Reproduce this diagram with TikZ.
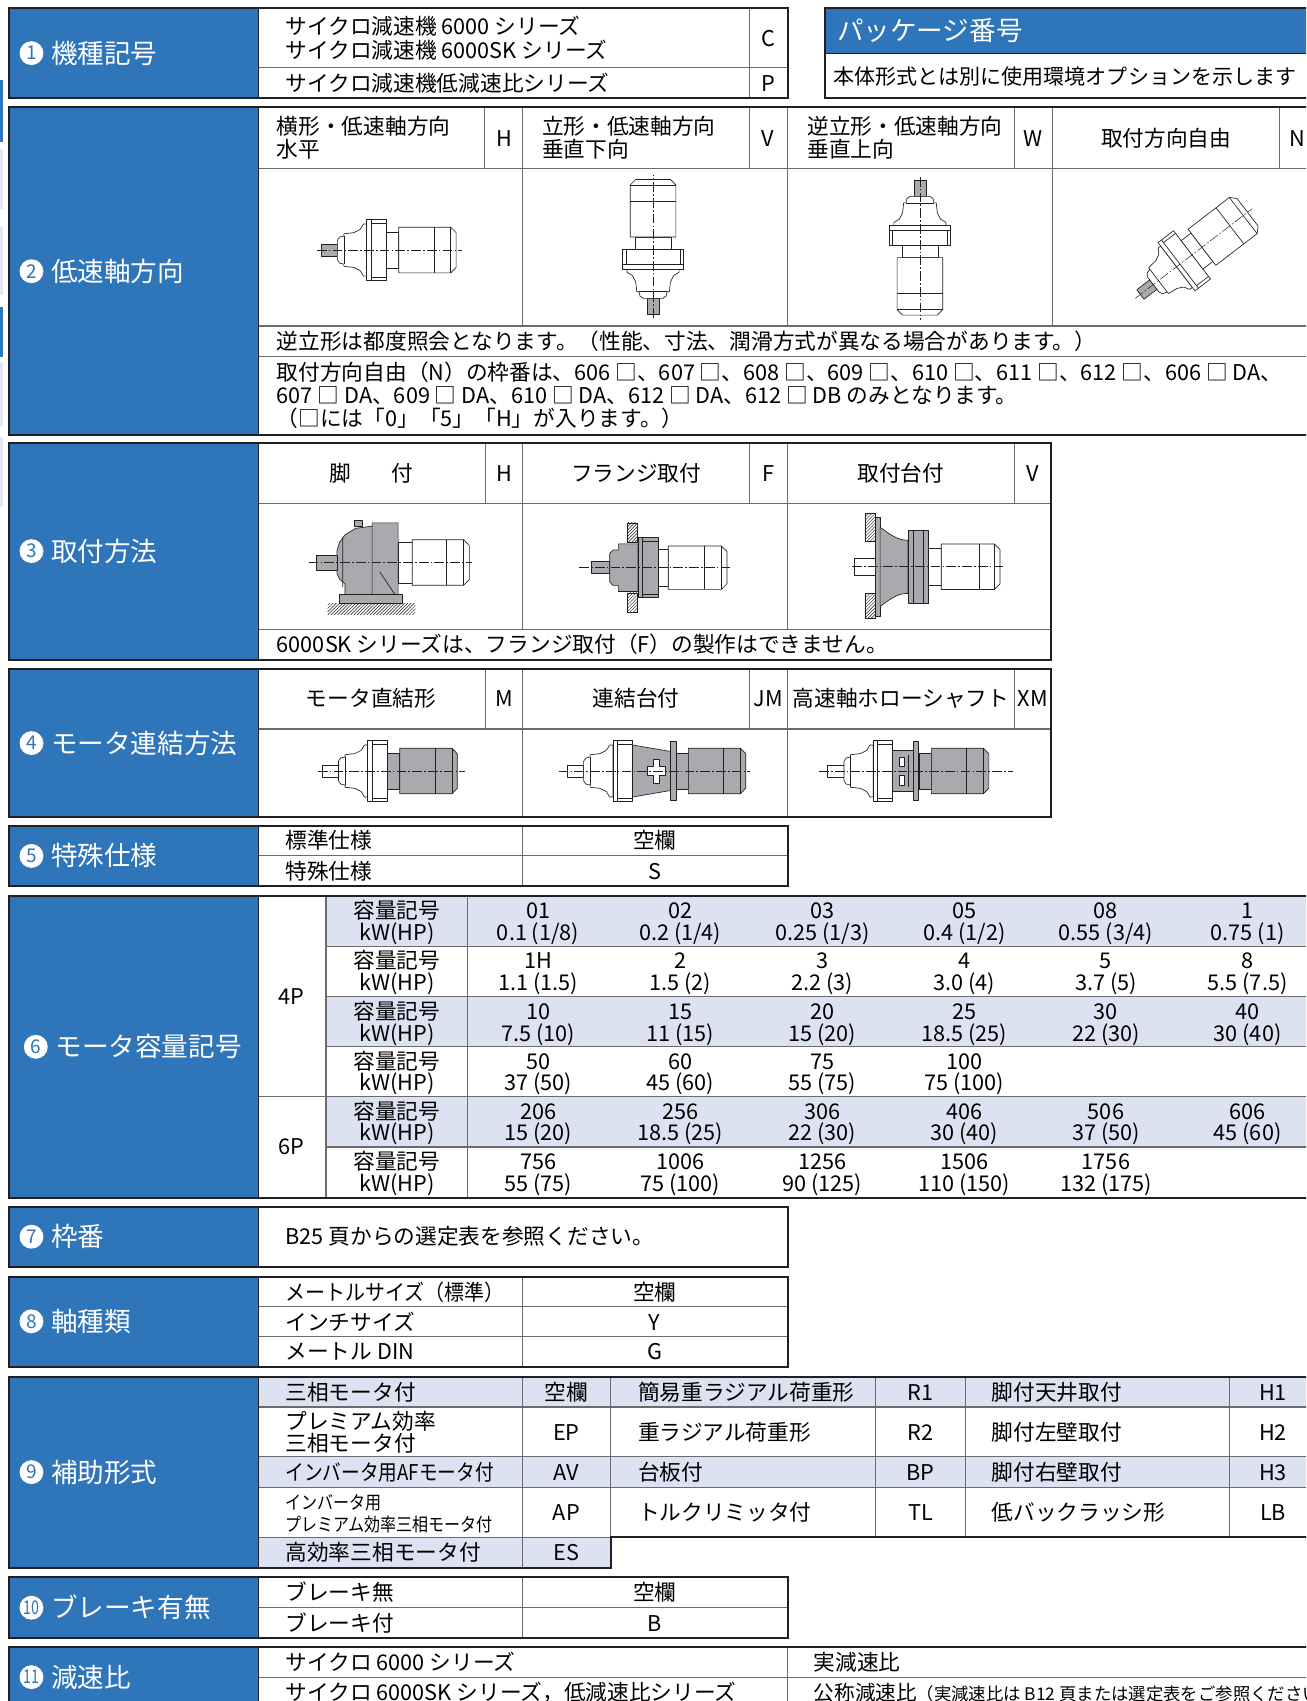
\documentclass[tikz,border=0pt]{standalone}
\usepackage{fontspec}
\setmainfont{Noto Sans CJK JP}
\usetikzlibrary{patterns}
\definecolor{hdrblue}{RGB}{46,117,185}
\definecolor{rowshade}{RGB}{221,226,242}
\definecolor{pgrey}{RGB}{168,170,173}
\definecolor{edgelight}{RGB}{226,231,243}
\definecolor{lnk}{RGB}{35,31,32}
\newcommand\bodyfs{\fontsize{20}{22}\selectfont}
\newcommand\hdrfs{\fontsize{24.5}{26}\selectfont}
\newcommand\cnfs{\fontsize{17.5}{17.5}\selectfont}
\newcommand\vcell[4]{\node[tx] at (#1,#2-10) {#3}; \node[tx] at (#1,#2+10) {#4};}
\newcommand\redpart[2]{%
  \draw[part,fill=#2] (-64,-5.5) rectangle (-49,5.5);
  \draw[part,fill=#1] (-49,-9) -- (-47,-12) -- (-43,-13) -- (-43,-15) -- (-34,-16) -- (-28,-19) -- (-25,-24) -- (-22,-24) -- (-22,24) -- (-25,24) -- (-28,19) -- (-34,16) -- (-43,15) -- (-43,13) -- (-47,12) -- (-49,9) -- cycle;
  \draw[part] (-43,-13) -- (-43,13);
  \draw[part,fill=#1] (-22,-28) rectangle (-4,28);
  \draw[part] (-18,-28) -- (-18,28) (-18,-25) -- (-4,-25) (-18,25) -- (-4,25);
}
\newcommand\motpart[2]{%
  \draw[part,fill=#1] (-4,-16.5) rectangle (7.5,16.5);
  \draw[part,fill=#2] (7.5,-21) -- (55.5,-21) -- (60.5,-16) -- (60.5,16) -- (55.5,21) -- (7.5,21) -- cycle;
  \draw[part] (40,-21) -- (40,21) (55.5,-21) -- (55.5,21);
}
\begin{document}
\begin{tikzpicture}[x=1pt,y=-1pt,
  outer/.style={draw=lnk, line width=1.8pt},
  inner/.style={draw=black!58, line width=1pt},
  part/.style={draw=lnk, line width=0.6pt, line join=round},
  cl/.style={draw=lnk, line width=0.45pt, dash pattern=on 9pt off 2pt on 1.5pt off 2pt},
  tx/.style={inner sep=0pt, font=\bodyfs, text height=17.6pt, text depth=2.4pt},
  txl/.style={tx, anchor=west},
  hd/.style={inner sep=0pt, font=\hdrfs, text=white, anchor=west, text height=21.5pt, text depth=3pt},
  cnum/.style={circle, fill=white, inner sep=0pt, minimum size=22pt, text=hdrblue, font=\cnfs},
  hatch/.style={draw=lnk, line width=0.6pt, pattern=north east lines, pattern color=lnk},
]
\useasboundingbox (0,0) rectangle (1204,1568);
\clip (0,0) rectangle (1204,1568);
\fill[white] (0,0) rectangle (1204,1568);
% left edge strips
\fill[hdrblue] (0,74) rectangle (3,131);
\fill[edgelight] (0,137) rectangle (3,193);
\fill[edgelight] (0,209) rectangle (3,272);
\fill[hdrblue] (0,283) rectangle (3,329);
\fill[edgelight] (0,334) rectangle (3,393);
\fill[edgelight] (0,403) rectangle (3,467);

% ===== Section 1
\fill[hdrblue] (8.5,7) rectangle (238,90.5);
\draw[inner] (238,62.5) -- (726,62.5) (691,7) -- (691,90.5);
\draw[inner,draw=lnk] (238,7) -- (238,90.5);
\draw[outer] (8.5,7) rectangle (726,90.5);
\node[cnum] (n1) at (29,49) {1};
\node[hd] (h1) at (47,49) {機種記号};
\node[txl] at (263,24) {サイクロ減速機 6000 シリーズ};
\node[txl] at (263,46) {サイクロ減速機 6000SK シリーズ};
\node[tx] at (708.5,35) {C};
\node[txl] at (263,76.5) {サイクロ減速機低減速比シリーズ};
\node[tx] at (708.5,76.5) {P};

% ===== Package
\fill[hdrblue] (760.5,7.5) rectangle (1215,49);
\draw[inner,draw=lnk] (760.5,49) -- (1215,49);
\draw[outer] (760.5,7.5) rectangle (1215,90.5);
\node[hd] (pk) at (771.5,28) {パッケージ番号};
\node[txl,font=\fontsize{19.4}{21}\selectfont] at (768,70) {本体形式とは別に使用環境オプションを示します};

% ===== Section 2
\fill[hdrblue] (8.5,99) rectangle (238,401);
\draw[inner] (238,155) -- (1215,155) (238,300.5) -- (1215,300.5) (238,329) -- (1215,329);
\draw[inner] (447,99) -- (447,155) (482,99) -- (482,300.5) (690.5,99) -- (690.5,155) (726,99) -- (726,300.5)
  (935,99) -- (935,155) (970,99) -- (970,300.5) (1179.5,99) -- (1179.5,155);
\draw[inner,draw=lnk] (238,99) -- (238,401);
\draw[outer] (8.5,99) rectangle (1215,401);
\node[cnum] (n2) at (29,250) {2};
\node[hd] (h2) at (47,250) {低速軸方向};
\node[txl] at (255,116.5) {横形・低速軸方向};
\node[txl] at (255,138) {水平};
\node[tx] at (464.5,127) {H};
\node[txl] at (499.5,116.5) {立形・低速軸方向};
\node[txl] at (499.5,138) {垂直下向};
\node[tx] at (708,127) {V};
\node[txl] at (744,116.5) {逆立形・低速軸方向};
\node[txl] at (744,138) {垂直上向};
\node[tx] at (952.5,127) {W};
\node[tx] at (1075,127) {取付方向自由};
\node[tx] at (1196,127) {N};
\node[txl] at (255,315) {逆立形は都度照会となります。（性能、寸法、潤滑方式が異なる場合があります。）};
\node[txl] at (255,343.5) {取付方向自由（N）の枠番は、606 □、607 □、608 □、609 □、610 □、611 □、612 □、606 □ DA、};
\node[txl] at (255,364.5) {607 □ DA、609 □ DA、610 □ DA、612 □ DA、612 □ DB のみとなります。};
\node[txl] at (255,386) {（□には「0」「5」「H」が入ります。）};
% drawings
\begin{scope}[shift={(360,230.5)}]
  \redpart{white}{pgrey}\motpart{white}{white}
  \draw[cl] (-68,0) -- (66,0);
\end{scope}
\begin{scope}[shift={(602,226)},rotate=90]
  \redpart{white}{pgrey}\motpart{white}{white}
  \draw[cl] (-67,0) -- (65,0);
\end{scope}
\begin{scope}[shift={(848,230)},rotate=-90]
  \redpart{white}{pgrey}\motpart{white}{white}
  \draw[cl] (-67,0) -- (65,0);
\end{scope}
\begin{scope}[shift={(1102,232.5)},rotate=37.5]
  \redpart{white}{pgrey}\motpart{white}{white}
  \draw[cl] (-70,0) -- (66,0);
\end{scope}

% ===== Section 3
\fill[hdrblue] (8.5,408.5) rectangle (238,608);
\draw[inner] (238,464) -- (969,464) (238,580) -- (969,580);
\draw[inner] (447.5,408.5) -- (447.5,464) (482,408.5) -- (482,580) (691,408.5) -- (691,464) (726,408.5) -- (726,580) (935,408.5) -- (935,464);
\draw[inner,draw=lnk] (238,408.5) -- (238,608);
\draw[outer] (8.5,408.5) rectangle (969,608);
\node[cnum] (n3) at (29,508) {3};
\node[hd] (h3) at (47,508) {取付方法};
\node[tx] at (342,436) {脚\hspace{37pt}付};
\node[tx] at (465,436) {H};
\node[tx] at (586.5,436) {フランジ取付};
\node[tx] at (708.5,436) {F};
\node[tx] at (830.5,436) {取付台付};
\node[tx] at (952,436) {V};
\node[txl] at (255,594) {6000SK シリーズは、フランジ取付（F）の製作はできません。};
% foot mounted
\fill[pattern=north east lines, pattern color=lnk] (302,556) rectangle (383,566);
\draw[part,fill=pgrey] (313,548) rectangle (371,556);
\draw[part,fill=pgrey] (310.5,508) -- (313,500) -- (318,493) -- (328,487) -- (343,485) -- (343,482) -- (367,482) -- (367,548) -- (318,548) -- (318,538) -- (313,534) -- (310.5,528) -- cycle;
\draw[part] (343,485) -- (343,548) (316,495) -- (316,541) (350,527) -- (364,548);
\draw[part,fill=pgrey] (327,480) rectangle (334,485);
\draw[part,fill=pgrey] (291.6,512) rectangle (310.5,525.4);
\draw[part,fill=white] (367,499.5) rectangle (380,537.5);
\draw[part,fill=white] (380,497.5) -- (427.5,497.5) -- (432.7,503) -- (432.7,534) -- (427.5,539.5) -- (380,539.5) -- cycle;
\draw[part] (411.5,497.5) -- (411.5,539.5) (427.5,497.5) -- (427.5,539.5);
\draw[cl] (284.5,518.7) -- (435,518.7);
% flange mounted
\draw[part,fill=pgrey] (545.5,517.8) rectangle (562,528.8);
\draw[part,fill=pgrey] (562,510.3) -- (565,507) -- (570,507) -- (570,501.3) -- (588,501.3) -- (588,545.3) -- (570,545.3) -- (570,539.6) -- (565,539.6) -- (562,536.3) -- cycle;
\draw[hatch] (578.5,482) rectangle (587.5,500);
\draw[hatch] (578.5,546.6) rectangle (587.5,564);
\draw[part,fill=pgrey] (588,495.6) rectangle (606.7,551);
\draw[part] (592,495.6) -- (592,551) (592,498.8) -- (606.7,498.8) (592,547.8) -- (606.7,547.8);
\draw[part,fill=white] (606.7,506.3) rectangle (616,540.3);
\draw[part,fill=white] (616,503.3) -- (665,503.3) -- (670.2,508.5) -- (670.2,538) -- (665,543.3) -- (616,543.3) -- cycle;
\draw[part] (649,503.3) -- (649,543.3) (665,503.3) -- (665,543.3);
\draw[cl] (533.8,523.3) -- (674.9,523.3);
% base mounted
\draw[hatch] (797.2,473) rectangle (806.6,499);
\draw[hatch] (797.2,547) rectangle (806.6,570);
\draw[part,fill=white] (787.7,514.7) rectangle (811,530);
\draw[part,fill=pgrey] (806.6,477) rectangle (811.3,568.5);
\draw[part,fill=pgrey] (811.3,486) .. controls (822,494) and (828,498) .. (837,498) -- (837,547) .. controls (828,547) and (822,551) .. (811.3,559) -- cycle;
\draw[part,fill=pgrey] (837,488.5) rectangle (856,556.3);
\draw[part] (842,488.5) -- (842,556.3) (851,488.5) -- (851,556.3);
\draw[part,fill=white] (856,505.4) rectangle (867.7,539.4);
\draw[part,fill=white] (867.7,501.4) -- (916.6,501.4) -- (921.8,506.6) -- (921.8,538.2) -- (916.6,543.4) -- (867.7,543.4) -- cycle;
\draw[part] (903,501.4) -- (903,543.4) (916.6,501.4) -- (916.6,543.4);
\draw[cl] (785.4,522.4) -- (926.5,522.4);

% ===== Section 4
\fill[hdrblue] (8.5,616.5) rectangle (238,753);
\draw[inner] (238,672) -- (969,672);
\draw[inner] (447.5,616.5) -- (447.5,672) (482,616.5) -- (482,753) (691,616.5) -- (691,672) (726,616.5) -- (726,753) (935,616.5) -- (935,672);
\draw[inner,draw=lnk] (238,616.5) -- (238,753);
\draw[outer] (8.5,616.5) rectangle (969,753);
\node[cnum] (n4) at (29,685) {4};
\node[hd] (h4) at (47,685) {モータ連結方法};
\node[tx] at (342,644) {モータ直結形};
\node[tx] at (465,644) {M};
\node[tx] at (586.5,644) {連結台付};
\node[tx] at (708.5,644) {JM};
\node[tx] at (830.5,644) {高速軸ホローシャフト};
\node[tx] at (952,644) {XM};
\begin{scope}[shift={(361,710.7)}]
  \redpart{white}{white}\motpart{pgrey}{pgrey}
  \draw[cl] (-68,0) -- (68,0);
\end{scope}
\begin{scope}[shift={(587,710.7)}]
  \redpart{white}{white}
  \draw[part,fill=pgrey] (-4,-24) -- (31,-18) -- (31,18) -- (-4,24) -- cycle;
  \draw[part,fill=white] (15,-11) -- (21,-11) -- (21,-4) -- (26,-4) -- (26,4) -- (21,4) -- (21,11) -- (15,11) -- (15,4) -- (10,4) -- (10,-4) -- (15,-4) -- cycle;
  \draw[part,fill=pgrey] (31,-27) rectangle (36,27);
  \begin{scope}[shift={(40,0)}]\motpart{pgrey}{pgrey}\end{scope}
  \draw[cl] (-72,0) -- (104,0);
\end{scope}
\begin{scope}[shift={(827,710.7)}]
  \redpart{white}{white}
  \draw[part,fill=pgrey] (-4,-19) rectangle (15,19);
  \draw[part,fill=white] (2,-13) rectangle (7,-4) (2,4) rectangle (7,13);
  \draw[part] (10,-15) -- (10,15);
  \draw[part,fill=pgrey] (15,-27.5) rectangle (19.5,27.5);
  \begin{scope}[shift={(24,0)}]\motpart{pgrey}{pgrey}\end{scope}
  \draw[cl] (-72,0) -- (107,0);
\end{scope}

% ===== Section 5
\fill[hdrblue] (8.5,761.5) rectangle (238,817);
\draw[inner] (238,789) -- (726,789) (481.5,761.5) -- (481.5,817);
\draw[inner,draw=lnk] (238,761.5) -- (238,817);
\draw[outer] (8.5,761.5) rectangle (726,817);
\node[cnum] (n5) at (29,789) {5};
\node[hd] (h5) at (47,789) {特殊仕様};
\node[txl] at (263,775) {標準仕様};
\node[tx] at (603.5,775) {空欄};
\node[txl] at (263,803) {特殊仕様};
\node[tx] at (603.5,803) {S};

% ===== Section 6
\fill[hdrblue] (8.5,826) rectangle (238,1104);
\fill[rowshade] (300.5,826) rectangle (1215,872.3);
\fill[rowshade] (300.5,918.7) rectangle (1215,965);
\fill[rowshade] (300.5,1011) rectangle (1215,1057.3);
\draw[inner] (300.5,872.3) -- (1215,872.3) (300.5,918.7) -- (1215,918.7) (300.5,965) -- (1215,965)
  (238,1011) -- (1215,1011) (300.5,1057.3) -- (1215,1057.3);
\draw[inner] (300.5,826) -- (300.5,1104) (431,826) -- (431,1104);
\draw[inner,draw=lnk] (238,826) -- (238,1104);
\draw[outer] (8.5,826) rectangle (1215,1104);
\node[cnum] (n6) at (33,965) {6};
\node[hd] (h6) at (51,965) {モータ容量記号};
\node[tx] at (269,918) {4P};
\node[tx] at (269,1057) {6P};
\foreach \yc in {849,895.5,942,988,1034,1080.5} {\vcell{365.8}{\yc}{容量記号}{kW(HP)}}
\vcell{496}{849}{01}{0.1 (1/8)}
\vcell{627}{849}{02}{0.2 (1/4)}
\vcell{758}{849}{03}{0.25 (1/3)}
\vcell{889}{849}{05}{0.4 (1/2)}
\vcell{1019.5}{849}{08}{0.55 (3/4)}
\vcell{1150}{849}{1}{0.75 (1)}
\vcell{496}{895.5}{1H}{1.1 (1.5)}
\vcell{627}{895.5}{2}{1.5 (2)}
\vcell{758}{895.5}{3}{2.2 (3)}
\vcell{889}{895.5}{4}{3.0 (4)}
\vcell{1019.5}{895.5}{5}{3.7 (5)}
\vcell{1150}{895.5}{8}{5.5 (7.5)}
\vcell{496}{942}{10}{7.5 (10)}
\vcell{627}{942}{15}{11 (15)}
\vcell{758}{942}{20}{15 (20)}
\vcell{889}{942}{25}{18.5 (25)}
\vcell{1019.5}{942}{30}{22 (30)}
\vcell{1150}{942}{40}{30 (40)}
\vcell{496}{988}{50}{37 (50)}
\vcell{627}{988}{60}{45 (60)}
\vcell{758}{988}{75}{55 (75)}
\vcell{889}{988}{100}{75 (100)}
\vcell{496}{1034}{206}{15 (20)}
\vcell{627}{1034}{256}{18.5 (25)}
\vcell{758}{1034}{306}{22 (30)}
\vcell{889}{1034}{406}{30 (40)}
\vcell{1019.5}{1034}{506}{37 (50)}
\vcell{1150}{1034}{606}{45 (60)}
\vcell{496}{1080.5}{756}{55 (75)}
\vcell{627}{1080.5}{1006}{75 (100)}
\vcell{758}{1080.5}{1256}{90 (125)}
\vcell{889}{1080.5}{1506}{110 (150)}
\vcell{1019.5}{1080.5}{1756}{132 (175)}

% ===== Section 7
\fill[hdrblue] (8.5,1113) rectangle (238,1168);
\draw[inner,draw=lnk] (238,1113) -- (238,1168);
\draw[outer] (8.5,1113) rectangle (726,1168);
\node[cnum] (n7) at (29,1140) {7};
\node[hd] (h7) at (47,1140) {枠番};
\node[txl] at (263,1140) {B25 頁からの選定表を参照ください。};

% ===== Section 8
\fill[hdrblue] (8.5,1177) rectangle (238,1260);
\draw[inner] (238,1204.5) -- (726,1204.5) (238,1232) -- (726,1232) (481.5,1177) -- (481.5,1260);
\draw[inner,draw=lnk] (238,1177) -- (238,1260);
\draw[outer] (8.5,1177) rectangle (726,1260);
\node[cnum] (n8) at (29,1218) {8};
\node[hd] (h8) at (47,1218) {軸種類};
\node[txl] at (263,1191) {\scalebox{0.92}[1]{メートルサイズ（標準）}};
\node[tx] at (603.5,1191) {空欄};
\node[txl] at (263,1218.5) {インチサイズ};
\node[tx] at (603.5,1218.5) {Y};
\node[txl] at (263,1246) {メートル DIN};
\node[tx] at (603.5,1246) {G};

% ===== Section 9
\fill[hdrblue] (8.5,1269) rectangle (238,1445);
\fill[rowshade] (238,1269) rectangle (1215,1297);
\fill[rowshade] (238,1343) rectangle (1215,1371);
\fill[rowshade] (238,1417) rectangle (563,1445);
\draw[inner] (238,1297) -- (1215,1297) (238,1343) -- (1215,1343) (238,1371) -- (1215,1371) (238,1417) -- (563,1417);
\draw[inner] (481.5,1269) -- (481.5,1445) (563,1269) -- (563,1417) (807,1269) -- (807,1417) (890,1269) -- (890,1417) (1133.5,1269) -- (1133.5,1417);
\draw[inner,draw=lnk] (238,1269) -- (238,1445);
\draw[outer] (8.5,1269) -- (1215,1269) -- (1215,1417) -- (563,1417) -- (563,1445) -- (8.5,1445) -- cycle;
\node[cnum] (n9) at (29,1357) {9};
\node[hd] (h9) at (47,1357) {補助形式};
\node[txl] at (263,1283) {三相モータ付};
\node[tx] at (522,1283) {空欄};
\node[txl] at (588,1283) {簡易重ラジアル荷重形};
\node[tx] at (848.5,1283) {R1};
\node[txl] at (914,1283) {脚付天井取付};
\node[tx] at (1173.5,1283) {H1};
\node[txl] at (263,1310.5) {プレミアム効率};
\node[txl] at (263,1330) {三相モータ付};
\node[tx] at (522,1320) {EP};
\node[txl] at (588,1320) {重ラジアル荷重形};
\node[tx] at (848.5,1320) {R2};
\node[txl] at (914,1320) {脚付左壁取付};
\node[tx] at (1173.5,1320) {H2};
\node[txl] at (263,1357) {\scalebox{0.86}[1]{インバータ用AFモータ付}};
\node[tx] at (522,1357) {AV};
\node[txl] at (588,1357) {台板付};
\node[tx] at (848.5,1357) {BP};
\node[txl] at (914,1357) {脚付右壁取付};
\node[tx] at (1173.5,1357) {H3};
\node[txl,font=\fontsize{17}{18}\selectfont] at (263,1384) {\scalebox{0.87}[1]{インバータ用}};
\node[txl,font=\fontsize{17}{18}\selectfont] at (263,1404) {\scalebox{0.87}[1]{プレミアム効率三相モータ付}};
\node[tx] at (522,1394) {AP};
\node[txl] at (588,1394) {トルクリミッタ付};
\node[tx] at (848.5,1394) {TL};
\node[txl] at (914,1394) {低バックラッシ形};
\node[tx] at (1173.5,1394) {LB};
\node[txl] at (263,1431) {高効率三相モータ付};
\node[tx] at (522,1431) {ES};

% ===== Section 10
\fill[hdrblue] (8.5,1454) rectangle (238,1510);
\draw[inner] (238,1482) -- (726,1482) (481.5,1454) -- (481.5,1510);
\draw[inner,draw=lnk] (238,1454) -- (238,1510);
\draw[outer] (8.5,1454) rectangle (726,1510);
\node[cnum] (n10) at (29,1482) {\scalebox{0.75}[1]{10}};
\node[hd] (h10) at (47,1482) {ブレーキ有無};
\node[txl] at (263,1468) {ブレーキ無};
\node[tx] at (603.5,1468) {空欄};
\node[txl] at (263,1496) {ブレーキ付};
\node[tx] at (603.5,1496) {B};

% ===== Section 11
\fill[hdrblue] (8.5,1518) rectangle (238,1600);
\draw[inner] (238,1546) -- (1215,1546) (726,1518) -- (726,1600);
\draw[inner,draw=lnk] (238,1518) -- (238,1600);
\draw[outer] (8.5,1518) rectangle (1215,1600);
\node[cnum] (n11) at (29,1546) {\scalebox{0.75}[1]{11}};
\node[hd] (h11) at (47,1546) {減速比};
\node[txl] at (263,1532) {サイクロ 6000 シリーズ};
\node[txl] at (750,1532) {実減速比};
\node[txl] at (263,1560) {サイクロ 6000SK シリーズ，低減速比シリーズ};
\node[txl] at (750,1560) {{\fontsize{19}{20}\selectfont 公称減速比}{\fontsize{16}{17}\selectfont（実減速比は B12 頁または選定表をご参照ください）}};
\end{tikzpicture}
\end{document}
